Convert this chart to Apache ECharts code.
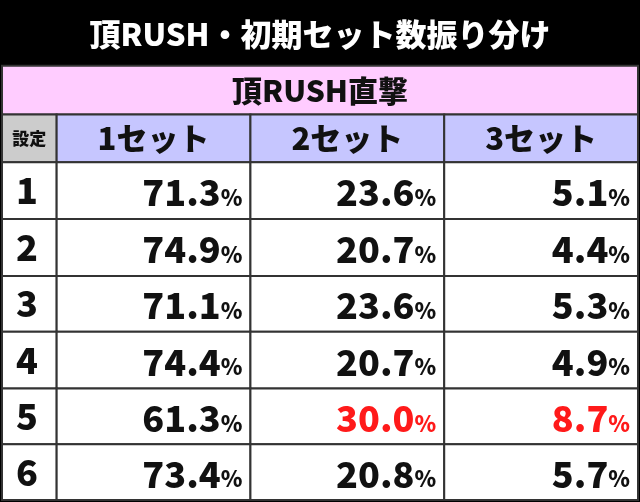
<!DOCTYPE html>
<html><head><meta charset="utf-8">
<script src="https://cdn.jsdelivr.net/npm/echarts@6/dist/echarts.min.js"></script>
<style>html,body{margin:0;padding:0;background:#000}#c{width:640px;height:502px}</style>
</head><body><div id="c"></div>
<script>
var title = '頂RUSH・初期セット数振り分け';
var subTitle = '頂RUSH直撃';
var headers = ['設定', '1セット', '2セット', '3セット'];
var settings = ['1', '2', '3', '4', '5', '6'];
var set1 = [71.3, 74.9, 71.1, 74.4, 61.3, 73.4];
var set2 = [23.6, 20.7, 23.6, 20.7, 30.0, 20.8];
var set3 = [5.1, 4.4, 5.3, 4.9, 8.7, 5.7];
var highlighted = [[4, 2], [4, 3]]; // row, col in red

// layout (pixels)
var colX = [0, 55, 250, 445, 640];
var rowY = [163, 220, 277, 333, 390, 446, 502];
var font = '"Noto Sans CJK JP", sans-serif';

var cells = [];
// kind: 0 title,1 sub,2 header,3 setting,4 value
cells.push({value: [0, 0, 640, 66, 0], label: title});
cells.push({value: [0, 66, 640, 115, 1], label: subTitle});
headers.forEach(function (h, i) {
  cells.push({value: [colX[i], 115, colX[i + 1], 163, 2, i], label: h});
});
var cols = [set1, set2, set3];
settings.forEach(function (s, r) {
  cells.push({value: [colX[0], rowY[r], colX[1], rowY[r + 1], 3], label: s});
  cols.forEach(function (arr, c) {
    var red = highlighted.some(function (h) { return h[0] === r && h[1] === c + 1; });
    cells.push({value: [colX[c + 1], rowY[r], colX[c + 2], rowY[r + 1], 4, red ? 1 : 0], label: arr[r].toFixed(1)});
  });
});

var chart = echarts.init(document.getElementById('c'));
chart.setOption({
  backgroundColor: '#000',
  animation: false,
  grid: {left: 2, right: 2, top: 0, bottom: 2},
  xAxis: {type: 'value', min: 0, max: 640, show: false},
  yAxis: {type: 'value', min: 0, max: 502, inverse: true, show: false},
  series: [{
    type: 'custom',
    data: cells,
    renderItem: function (params, api) {
      var d = cells[params.dataIndex];
      var v = d.value;
      var p0 = api.coord([v[0], v[1]]);
      var p1 = api.coord([v[2], v[3]]);
      var x = p0[0], y = p0[1], w = p1[0] - p0[0], h = p1[1] - p0[1];
      var kind = v[4];
      var fill = '#fff', stroke = '#333';
      var style;
      if (kind === 0) {
        fill = '#000'; stroke = '#000';
        style = {text: d.label, x: x + w / 2, y: y + h / 2 + 1, align: 'center', verticalAlign: 'middle',
          fill: '#fff', font: '900 31px ' + font};
      } else if (kind === 1) {
        fill = '#ffccff';
        style = {text: d.label, x: x + w / 2, y: y + h / 2, align: 'center', verticalAlign: 'middle',
          fill: '#111', font: '900 30px ' + font};
      } else if (kind === 2) {
        fill = v[5] === 0 ? '#cccccc' : '#c6c6ff';
        style = {text: d.label, x: x + w / 2, y: y + h / 2, align: 'center', verticalAlign: 'middle',
          fill: '#111', font: (v[5] === 0 ? '900 17px ' : '900 31px ') + font};
      } else if (kind === 3) {
        style = {text: d.label, x: x + 14, y: y + h / 2, align: 'left', verticalAlign: 'middle',
          fill: '#111', font: '900 36px ' + font};
      } else {
        var col = v[5] ? '#ff1a1a' : '#111';
        style = {text: '{n|' + d.label + '}{p|%}', x: x + w - 8, y: y + h / 2 + 2, align: 'right', verticalAlign: 'middle',
          rich: {n: {fill: col, font: '900 36px ' + font}, p: {fill: col, font: '900 22px ' + font, padding: [10, 0, 0, 0]}}};
      }
      return {
        type: 'group',
        children: [
          {type: 'rect', shape: {x: x, y: y, width: w, height: h}, style: {fill: fill, stroke: stroke, lineWidth: 2}},
          {type: 'text', style: style}
        ]
      };
    }
  }]
});
</script>
</body></html>
